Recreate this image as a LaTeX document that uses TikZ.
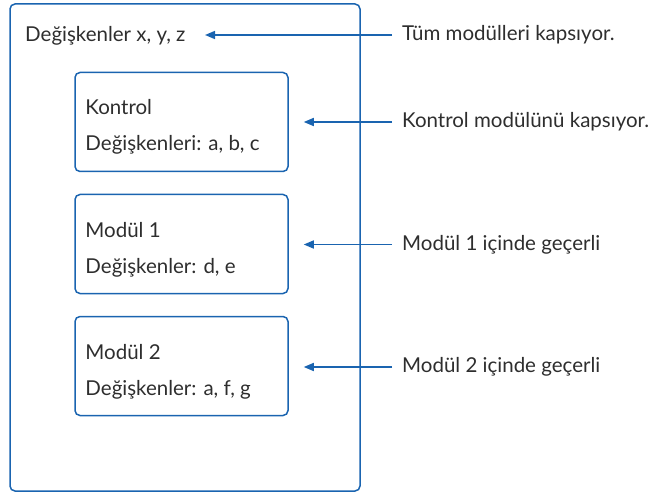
\documentclass[tikz,border=0pt]{standalone}
\usepackage{fontspec}
\setmainfont{Lato}
\usetikzlibrary{arrows.meta,positioning}
\definecolor{mavi}{HTML}{1A64B0}
\definecolor{yazi}{HTML}{2E2E2E}

\begin{document}
\begin{tikzpicture}[x=1pt,y=-1pt]
		\tikzstyle{every node}+=[inner sep=0pt, text=yazi, font=\fontsize{20.5}{24}\selectfont]
		\tikzstyle{kutu}=[draw=mavi, line width=1.5pt, rounded corners=5pt]
		\tikzstyle{modkutu}=[kutu, minimum width=213pt, minimum height=99pt]
		\tikzstyle{ok}=[draw=mavi, line width=1.5pt, -{Triangle[length=10pt,width=8pt]}]
		\useasboundingbox (0,0) rectangle (651,492);
		% dis kutu
		\node [kutu, minimum width=350pt, minimum height=487pt] (dis) at (185,247.5) {};
		\node [anchor=base west] (degx) at (25,42) {Değişkenler x, y, z};
		\coordinate (uc1) at (205,35);
		% moduller
		\node [modkutu] (kontrol) at (181.5,122) {};
		\node [anchor=base west] (k1) at ([xshift=11pt,yshift=7pt]kontrol.west) {Kontrol};
		\node [anchor=base west] (k2) at ([xshift=11pt,yshift=-29pt]kontrol.west) {Değişkenleri: a, b, c};
		\node [modkutu] (modul1) at (181.5,244) {};
		\node [anchor=base west] (m11) at ([xshift=11pt,yshift=7pt]modul1.west) {Modül 1};
		\node [anchor=base west] (m12) at ([xshift=11pt,yshift=-29pt]modul1.west) {Değişkenler: d, e};
		\node [modkutu] (modul2) at (181.5,366) {};
		\node [anchor=base west] (m21) at ([xshift=11pt,yshift=7pt]modul2.west) {Modül 2};
		\node [anchor=base west] (m22) at ([xshift=11pt,yshift=-29pt]modul2.west) {Değişkenler: a, f, g};
		% aciklamalar
		\node [anchor=west] (t1) at (402,35) {Tüm modülleri kapsıyor.};
		\node [anchor=west] (t2) at (402,122) {Kontrol modülünü kapsıyor.};
		\node [anchor=west] (t3) at (402,244.5) {Modül 1 içinde geçerli};
		\node [anchor=west] (t4) at (402,367) {Modül 2 içinde geçerli};
		\draw [ok] ([xshift=-10pt]t1.west) -- (uc1);
		\draw [ok] ([xshift=-10pt]t2.west) -- ([xshift=15pt]kontrol.east);
		\draw [ok] ([xshift=-10pt]t3.west) -- ([xshift=15pt,yshift=-0.5pt]modul1.east);
		\draw [ok] ([xshift=-10pt]t4.west) -- ([xshift=15pt,yshift=-1pt]modul2.east);
\end{tikzpicture}
\end{document}
